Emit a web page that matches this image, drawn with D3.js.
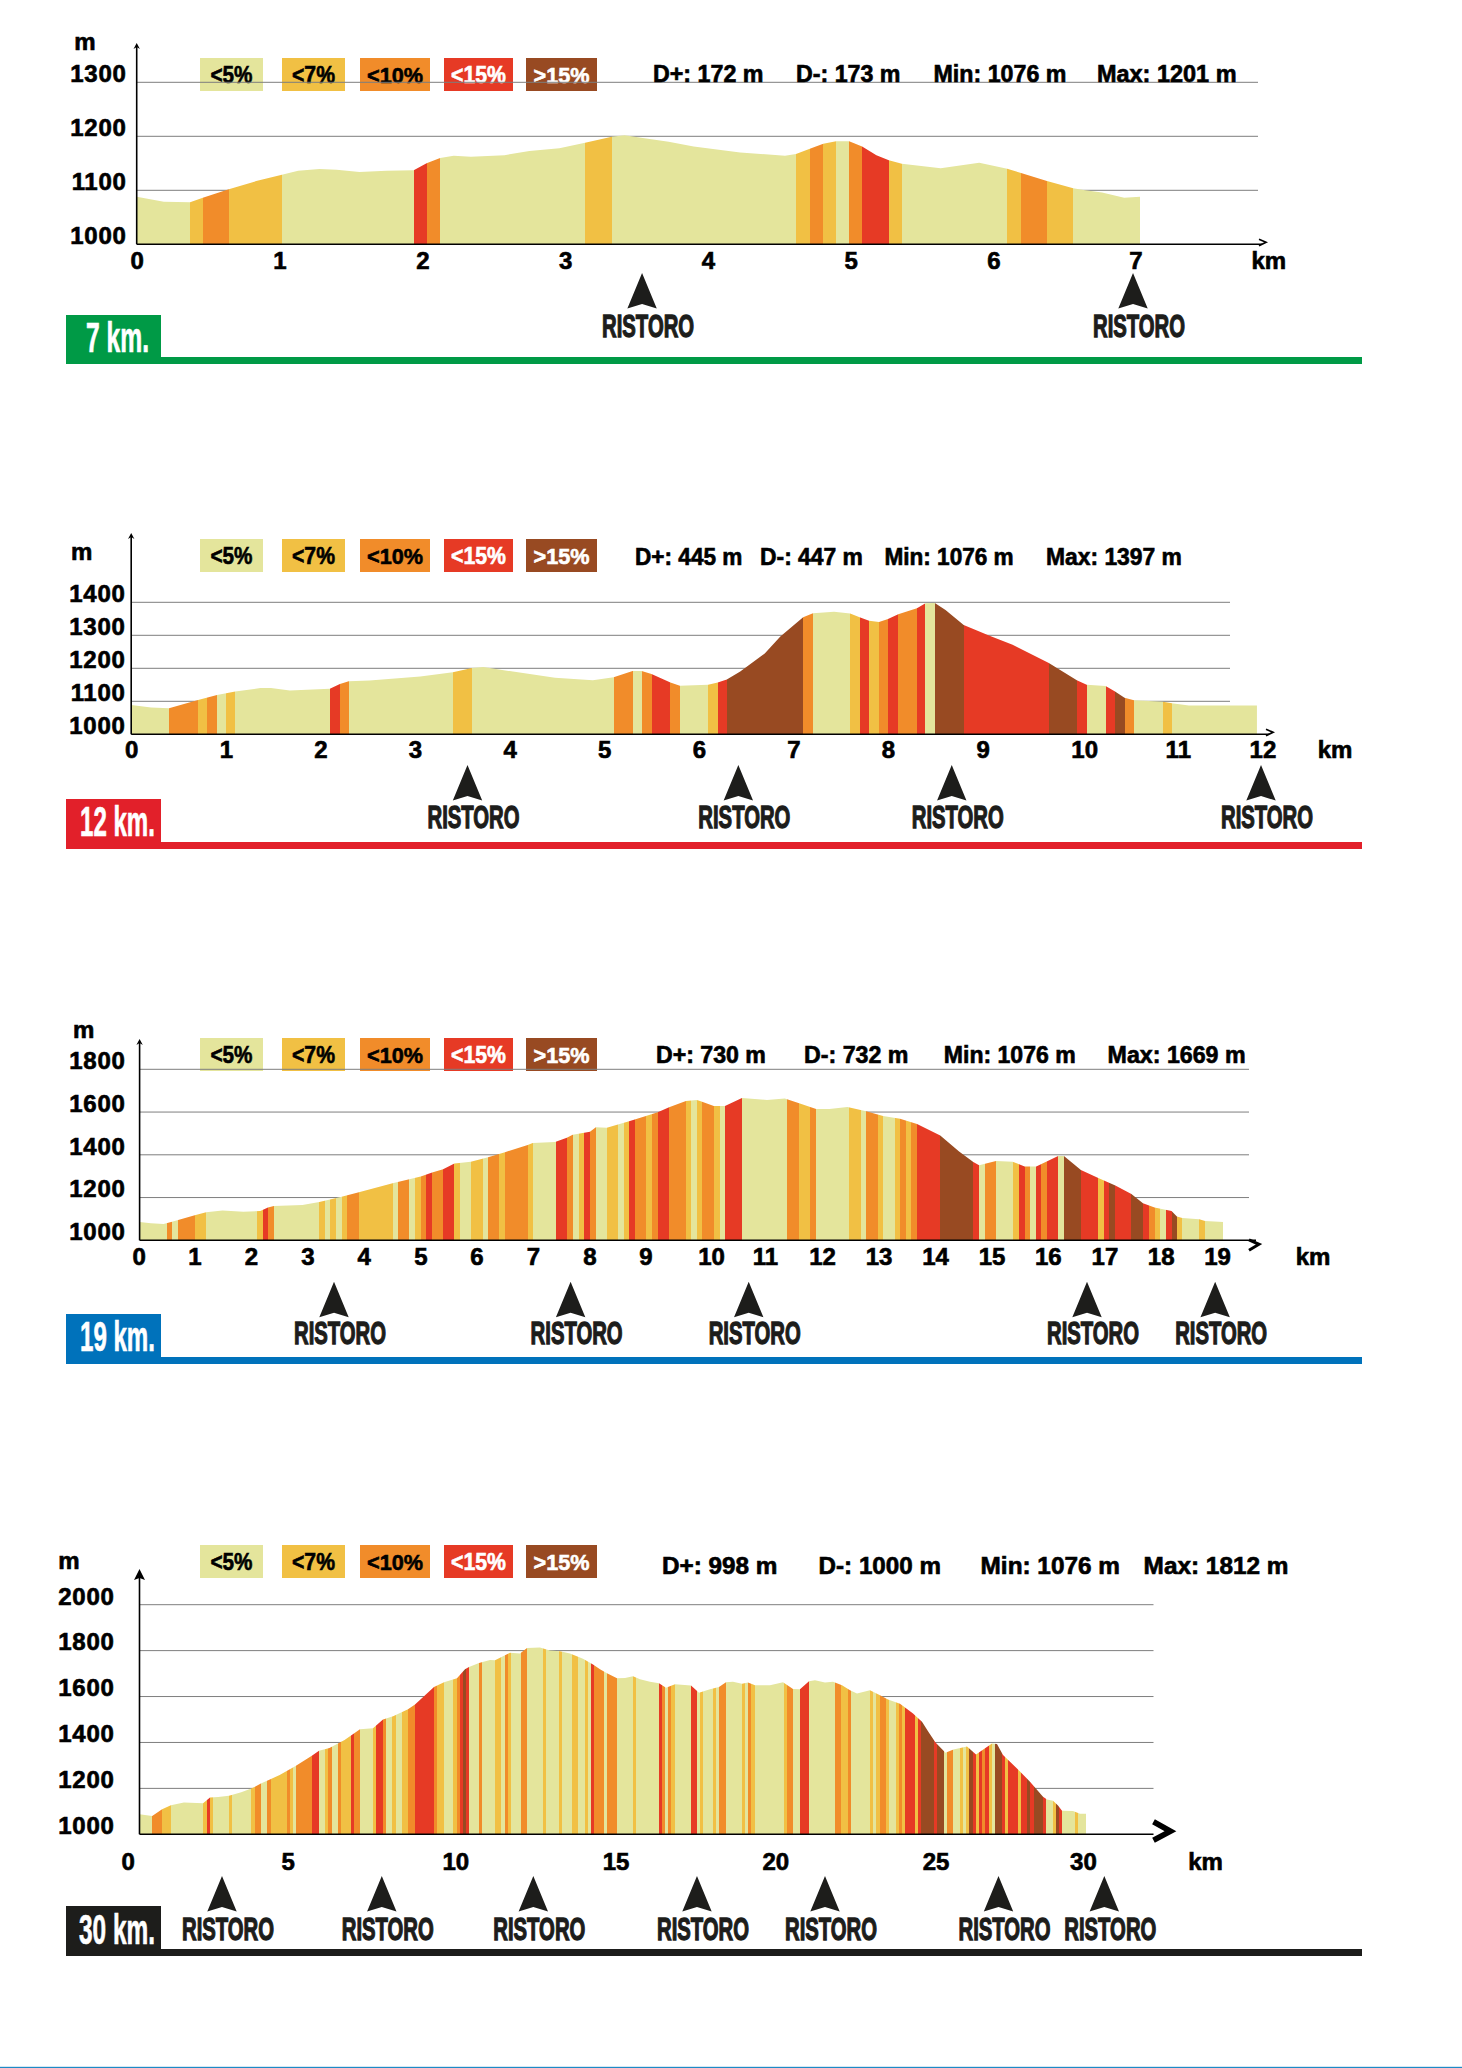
<!DOCTYPE html>
<html><head><meta charset="utf-8"><title>Altimetrie</title>
<script src="https://cdnjs.cloudflare.com/ajax/libs/d3/7.8.5/d3.min.js"></script>
<style>
html,body{margin:0;padding:0;background:#fff}
svg{display:block}
text{font-family:"Liberation Sans",Arial,sans-serif;font-weight:bold;fill:#000}
.heavy{stroke:#000;stroke-width:.65px}
.cond{font-family:"Liberation Sans Narrow","Liberation Sans",Arial,sans-serif}
</style></head><body><div id="chart"></div>
<script>
// ---- gradient classes
const classLabels=["<5%","<7%","<10%","<15%",">15%"];
const classColors=["#e4e59c","#f1c044","#f18c2a","#e63a25","#984a22"];
const classInk=["#000","#000","#000","#fff","#fff"];

// ---- 7 km
const km7=[0,.19,.374,.463,.645,.837,1.017,1.13,1.28,1.40,1.56,1.75,1.94,2.03,2.125,2.22,2.34,2.576,2.75,2.96,3.14,3.327,3.416,3.52,3.725,3.90,4.226,4.54,4.617,4.714,4.808,4.898,4.989,5.08,5.18,5.267,5.358,5.63,5.90,6.096,6.193,6.374,6.558,6.63,6.76,6.915,7.027];
const ele7=[1088,1079,1078,1086,1102,1117,1129,1136,1139.5,1138,1134,1136,1137,1150,1160,1164,1162,1165,1173,1178,1188,1199,1202,1198,1190,1181,1170,1164,1167,1177,1186,1191,1191,1181,1165,1155.6,1149,1141,1151,1140,1132,1117,1104,1100.6,1096,1086,1088];
const bandEnd7=[.374,.463,.645,1.017,1.942,2.034,2.125,3.139,3.327,4.617,4.714,4.808,4.898,4.989,5.08,5.267,5.358,6.096,6.193,6.374,6.558,7.027];
const bandClass7=[0,1,2,1,0,3,2,0,1,0,1,2,1,0,2,3,1,0,1,2,1,0];
const ristoro7=[3.539,6.977];
const xTicks7=[0,1,2,3,4,5,6,7];
const yTicks7=[1000,1100,1200,1300];
const stats7=["D+: 172 m","D-: 173 m","Min: 1076 m","Max: 1201 m"];

// ---- 12 km
const km12=[0,.21,.40,.707,.907,1.10,1.366,1.477,1.677,2.10,2.206,2.30,2.52,3.056,3.40,3.603,3.723,4.035,4.48,4.88,5.10,5.30,5.396,5.50,5.70,5.80,6.098,6.20,6.296,6.438,6.697,6.862,7.103,7.207,7.43,7.60,7.70,7.80,7.905,8.0,8.108,8.306,8.396,8.495,8.608,8.80,9.08,9.317,9.70,9.996,10.10,10.30,10.40,10.50,10.60,10.907,11.0,11.18,11.90];
const ele12=[1089,1081,1079,1104,1119,1130,1140,1140,1133,1138,1152.5,1160.6,1163,1175,1188,1201,1204,1190,1171,1164,1173,1192,1192,1183,1157,1147,1150,1157,1166,1190,1245,1296,1355,1367,1371,1366,1355,1344,1340,1349.5,1364,1382,1397,1398,1377,1331,1298,1271,1216,1164,1150.5,1146.5,1130,1111,1103,1099,1094,1087,1087];
const bandEnd12=[.40,.707,.80,.907,1.0,1.099,2.10,2.206,2.30,3.40,3.603,5.10,5.30,5.396,5.50,5.70,5.80,6.098,6.20,6.296,7.103,7.207,7.60,7.70,7.80,7.905,8.0,8.108,8.306,8.396,8.495,8.80,9.70,9.996,10.10,10.30,10.40,10.50,10.60,10.907,11.0,11.90];
const bandClass12=[0,2,1,2,0,1,0,3,2,0,1,0,2,0,2,3,2,0,1,3,4,2,0,1,3,1,2,3,2,3,0,4,3,4,3,0,3,4,2,0,1,0];
const ristoro12=[3.555,6.418,8.674,11.943];
const xTicks12=[0,1,2,3,4,5,6,7,8,9,10,11,12];
const yTicks12=[1000,1100,1200,1300,1400];
const stats12=["D+: 445 m","D-: 447 m","Min: 1076 m","Max: 1397 m"];

// ---- 19 km
const km19=[0,.2,.425,.575,.978,1.179,1.47,1.84,2.14,2.276,2.381,2.888,3.187,3.582,3.888,4.485,4.985,5.187,5.381,5.582,5.873,6.179,6.478,6.881,6.97,7.366,7.575,7.679,7.985,8.09,8.284,8.679,8.978,9.187,9.388,9.687,9.881,9.936,10.181,10.379,10.68,10.965,11.124,11.44,11.694,11.995,12.232,12.55,12.881,13.182,13.483,13.784,14.196,14.53,14.782,14.885,15.185,15.478,15.692,15.898,16.286,16.389,16.69,16.998,17.30,17.585,17.79,17.996,18.297,18.392,18.487,18.788,18.891,19.215];
const ele19=[1086,1080,1076,1087,1117,1131,1140,1133,1137,1153,1161,1165,1179,1204,1225,1267,1298,1317,1332,1359,1368,1388,1412,1446,1455,1460,1480,1494,1508,1529,1526,1557,1582,1599,1622,1652,1656.5,1652,1628,1628,1666,1660,1656.5,1663,1641,1614,1614,1624,1603.5,1582,1569,1544,1490,1415,1366.5,1351,1371,1368,1345,1345,1394.5,1394.5,1329,1292,1256,1217,1173,1154,1137,1111,1104.5,1098,1090,1086];
const bandEnd19=[.485,.575,.679,.978,1.179,2.082,2.187,2.276,2.381,3.187,3.284,3.381,3.478,3.582,3.679,3.888,4.485,4.582,4.776,4.881,4.985,5.075,5.187,5.381,5.582,5.679,5.873,6.082,6.179,6.381,6.478,6.881,6.97,7.381,7.575,7.679,7.784,7.881,7.985,8.09,8.284,8.478,8.582,8.679,8.784,8.978,9.082,9.187,9.388,9.687,9.776,9.881,9.976,10.181,10.292,10.379,10.68,11.48,11.694,11.884,11.995,12.58,12.786,12.881,13.095,13.182,13.396,13.483,13.586,13.681,13.784,14.196,14.782,14.885,14.987,15.185,15.486,15.597,15.692,15.795,15.898,15.985,16.088,16.286,16.389,16.69,16.998,17.094,17.189,17.30,17.585,17.79,17.893,17.996,18.099,18.194,18.297,18.392,18.487,18.788,18.891,19.215];
const bandClass19=[0,2,0,2,1,0,1,3,2,0,1,0,1,0,1,2,1,0,2,0,1,2,3,2,3,1,0,1,0,2,1,2,1,0,3,2,0,1,3,2,0,1,0,1,3,2,1,2,3,2,1,0,1,2,1,0,3,0,2,1,2,0,1,0,2,1,0,1,2,1,2,3,4,3,0,2,0,1,3,2,0,3,2,3,0,4,3,1,3,4,3,4,3,2,1,0,3,4,1,0,1,0];
const ristoro19=[3.447,7.642,10.8,16.798,19.07];
const xTicks19=[0,1,2,3,4,5,6,7,8,9,10,11,12,13,14,15,16,17,18,19];
const yTicks19=[1000,1200,1400,1600,1800];
const stats19=["D+: 730 m","D-: 732 m","Min: 1076 m","Max: 1669 m"];

// ---- 30 km
const km30=[0,.403,.717,.997,1.41,2.019,2.238,2.5,2.841,3.23,3.549,3.854,4.45,4.968,5.483,5.698,6.03,6.51,7.0,7.413,7.73,8.05,8.524,8.746,9.349,9.667,10.079,10.333,10.46,10.778,11.127,11.286,11.762,12.079,12.302,12.714,13.03,13.349,13.667,14.079,14.397,14.619,14.841,15.159,15.413,15.667,15.889,16.206,16.492,16.714,17.0,17.508,17.762,18.111,18.397,18.619,18.84,19.127,19.317,19.54,20.016,20.429,20.746,20.968,21.254,21.444,21.762,22.016,22.302,22.556,22.778,23.19,23.508,23.762,24.143,24.556,24.841,25.048,25.27,25.587,25.841,26.27,26.556,27.063,27.222,27.413,27.857,28.27,28.683,28.81,29.0,29.159,29.286,29.635,29.857,30.048];
const ele30=[1087,1080,1109,1126,1139,1135,1160,1163,1168,1183,1199,1221,1258,1299,1343,1364,1376,1411,1458,1462,1500,1514,1545,1565,1642,1662,1680,1719,1729,1746,1759,1758,1791,1788,1811,1814,1800,1797,1787,1765,1740,1719,1701,1680,1681,1688,1675,1664,1658,1638,1654,1648,1617,1632,1642,1662,1664,1656,1661,1649,1649,1662,1633,1632,1667,1671,1661,1664,1649,1627,1613,1627,1606,1587,1569,1526,1490,1446,1400,1355,1369,1382,1348,1396,1393,1345,1287,1229,1164,1152,1146,1125,1103,1101,1090,1090];
const bandEnd30=[.403,.717,.997,2.019,2.14,2.238,2.333,2.841,2.943,3.549,3.67,3.854,4.048,4.181,4.667,4.778,4.873,4.968,5.483,5.698,5.883,5.978,6.111,6.295,6.394,6.714,6.81,7.0,7.413,7.508,7.73,7.825,8.016,8.143,8.333,8.524,8.746,9.349,9.444,9.667,9.952,10.079,10.175,10.27,10.365,10.46,10.778,10.873,11.286,11.476,11.603,11.698,11.794,12.111,12.302,12.81,12.905,13.317,13.413,13.73,13.921,14.143,14.238,14.333,14.429,14.619,14.746,14.841,15.159,15.667,15.762,16.492,16.587,16.683,16.778,16.873,17.0,17.508,17.698,17.794,17.889,18.206,18.302,18.397,18.619,19.127,19.222,19.317,19.413,19.54,20.46,20.556,20.746,20.968,21.254,22.079,22.27,22.492,22.587,23.19,23.286,23.381,23.508,23.698,23.794,24.016,24.111,24.206,24.302,24.619,24.714,24.81,25.222,25.317,25.54,25.635,25.825,26.048,26.143,26.238,26.333,26.46,26.556,26.651,26.746,26.841,26.968,27.063,27.159,27.381,27.476,27.571,27.889,27.984,28.175,28.27,28.397,28.683,28.778,29.0,29.095,29.19,29.286,29.698,29.794,30.048];
const bandClass30=[0,2,1,0,1,3,1,0,1,0,1,2,0,2,1,2,1,0,2,3,0,1,2,0,2,1,3,2,0,1,3,2,0,1,0,1,2,3,2,1,0,1,2,3,4,3,0,2,0,1,0,2,1,0,2,0,1,0,1,0,1,0,1,0,3,2,2,0,2,0,1,0,3,2,0,2,1,0,3,0,1,0,1,0,2,0,1,0,2,1,0,1,2,0,3,0,2,1,2,0,1,0,1,2,1,0,1,2,1,3,1,3,4,3,4,0,2,0,1,0,1,4,3,1,3,2,3,1,0,4,3,1,3,1,3,4,3,4,3,0,1,4,3,0,1,0];
const ristoro30=[2.619,7.692,12.502,17.698,21.762,27.27,30.629];
const xTicks30=[0,5,10,15,20,25,30];
const yTicks30=[1000,1200,1400,1600,1800,2000];
const stats30=["D+: 998 m","D-: 1000 m","Min: 1076 m","Max: 1812 m"];

const panelTitles=["7 km.","12 km.","19 km.","30 km."];

// ---- page layout (pixels), separate from the values above
const legendBoxes=[[200,263,42],[282,345,43],[360,430,56],[444,513,55],[526,597,56]];
const panels=[
 {km:km7,ele:ele7,end:bandEnd7,cls:bandClass7,rist:ristoro7,xt:xTicks7,yt:yTicks7,st:stats7,title:panelTitles[0],color:"#009a46",
  x0:136.7,pxKm:142.8,yBase:244.3,yTop:82.3,yMax:1300,gridEnd:1258,axisTop:47,axisEnd:1262,arrow:"small",
  mx:85,my:42.7,labelR:126.5,kmx:1268.8,tickY:261,legendY:58,statY:82,
  statX:[[653,110.5],[796,104.5],[933.5,133],[1097,139.6]],tickDx:[0,0,0,0,0,0,0,-1],
  arrowY:273,textY:336.7,blockY:315,blockH:49,titleX:86,titleW:63,titleY:351.5},
 {km:km12,ele:ele12,end:bandEnd12,cls:bandClass12,rist:ristoro12,xt:xTicks12,yt:yTicks12,st:stats12,title:panelTitles[1],color:"#e2202a",
  x0:131.2,pxKm:94.6,yBase:734.3,yTop:602.3,yMax:1400,gridEnd:1230,axisTop:537,axisEnd:1269,arrow:"small",
  mx:81.6,my:553,labelR:125.5,kmx:1335,tickY:750,legendY:539,statY:565,
  statX:[[635,107.5],[760,103],[884.4,129.4],[1046,136]],tickDx:[0,0,0,0,0,0,0,0,0,0,7,6,-4],
  arrowY:765,textY:828,blockY:799,blockH:50,titleX:80,titleW:75,titleY:836},
 {km:km19,ele:ele19,end:bandEnd19,cls:bandClass19,rist:ristoro19,xt:xTicks19,yt:yTicks19,st:stats19,title:panelTitles[2],color:"#0072bb",
  x0:139.6,pxKm:56.4,yBase:1240.3,yTop:1069.3,yMax:1800,gridEnd:1249,axisTop:1043,axisEnd:1256,arrow:"mid",
  mx:83.7,my:1031,labelR:125.5,kmx:1313,tickY:1257,legendY:1038,statY:1062.7,
  statX:[[656,110],[804,104.5],[943.8,132],[1107.6,138]],tickDx:[-1,-1.5,-1.5,-1.5,-1.5,-1.2,-1.5,-1.5,-1.5,-1.7,7.4,5,5.6,5.8,5.8,5.9,5.8,6,5.9,5.8],
  arrowY:1281.7,textY:1344.3,blockY:1314,blockH:50,titleX:80,titleW:75,titleY:1351},
 {km:km30,ele:ele30,end:bandEnd30,cls:bandClass30,rist:ristoro30,xt:xTicks30,yt:yTicks30,st:stats30,title:panelTitles[3],color:"#1d1d1b",
  x0:139.5,pxKm:31.5,yBase:1834.3,yTop:1604.7,yMax:2000,gridEnd:1153.5,axisTop:1578,axisEnd:1153.5,arrow:"big",
  mx:69,my:1562.3,labelR:114.5,kmx:1205.6,tickY:1862,legendY:1545,statY:1574,
  statX:[[662,115.5],[818.6,122.4],[980.6,139.4],[1143.6,145]],tickDx:[-11.8,-9.3,.8,3.6,5.8,8.5,-1.6],
  arrowY:1876,textY:1940,blockY:1906,blockH:50,titleX:79,titleW:76,titleY:1944}
];

const W=1462,H=2068;
const svg=d3.select("#chart").append("svg").attr("width",W).attr("height",H).attr("viewBox",[0,0,W,H]);
const INK="#1d1d1b";

// squeezes a line of text into a measured width, starting at (px,py)
function fit(sel,px,py,w){
  const natural=sel.node().getComputedTextLength()||w;
  return sel.attr("transform",`translate(${px},${py}) scale(${w/natural},1)`);
}

panels.forEach((p,pi)=>{
  const g=svg.append("g");
  const maxKm=(W-p.x0)/p.pxKm;
  const x=d3.scaleLinear().domain([0,maxKm]).range([p.x0,W]);
  const y=d3.scaleLinear().domain([1000,p.yMax]).range([p.yBase,p.yTop]);
  const points=d3.range(p.km.length).map(i=>[p.km[i],p.ele[i]]);

  // legend (sits under the gridlines)
  const leg=g.append("g");
  classLabels.forEach((t,i)=>{
    const [a,b,tw]=legendBoxes[i];
    leg.append("rect").attr("x",a).attr("y",p.legendY).attr("width",b-a).attr("height",33).attr("fill",classColors[i]);
    fit(leg.append("text").attr("font-size",23).style("fill",classInk[i]).style("stroke",classInk[i]).style("stroke-width",".6px").text(t),
      (a+b)/2-tw/2,p.legendY+24.7,tw);
  });

  // gridlines
  g.append("g").selectAll("line").data(p.yt.filter(v=>v>1000)).join("line")
    .attr("x1",p.x0).attr("x2",p.gridEnd).attr("y1",d=>y(d)).attr("y2",d=>y(d))
    .attr("stroke","#7e7e7e").attr("stroke-width",1);

  // profile: coloured bands clipped to the elevation area
  const clipId="profile"+pi;
  const area=d3.area().x(d=>x(d[0])).y0(y(1000)).y1(d=>y(d[1]));
  g.append("clipPath").attr("id",clipId).append("path").attr("d",area(points));
  const bands=p.end.map((e,i)=>({a:i?p.end[i-1]:0,b:e,c:p.cls[i]}));
  g.append("g").attr("clip-path",`url(#${clipId})`).selectAll("rect").data(bands).join("rect")
    .attr("x",d=>x(d.a)).attr("width",d=>x(d.b)-x(d.a)).attr("y",y.range()[1]).attr("height",y.range()[0]-y.range()[1])
    .attr("fill",d=>classColors[d.c]).attr("shape-rendering","crispEdges");

  // y axis
  const yAxis=d3.axisLeft(y).tickValues(p.yt).tickSize(0).tickPadding(0).tickFormat(d3.format("d"));
  const ya=g.append("g").attr("transform",`translate(${p.labelR},0)`).call(yAxis);
  ya.select(".domain").remove();
  ya.selectAll("text").attr("class","heavy").attr("font-size",24).attr("font-family",null).attr("x",0).attr("dy",null)
    .attr("y",8).attr("transform","translate(0,-8.7)").style("letter-spacing",".7px");
  g.append("line").attr("x1",p.x0).attr("x2",p.x0).attr("y1",p.axisTop).attr("y2",p.yBase).attr("stroke","#000").attr("stroke-width",1.6);
  const big=p.arrow==="big";
  const hw=big?5.5:3.2, hh=big?10:6;
  g.append("path").attr("d",`M${p.x0-hw},${p.axisTop+2}L${p.x0},${p.axisTop+2-hh-(big?1:0)}L${p.x0+hw},${p.axisTop+2}L${p.x0},${p.axisTop}Z`).attr("fill","#000");

  // x axis
  const xAxis=d3.axisBottom(x).tickValues(p.xt).tickSize(0).tickFormat(d3.format("d"));
  const xa=g.append("g").attr("transform",`translate(0,${p.yBase})`).call(xAxis);
  xa.select(".domain").remove();
  xa.selectAll("text").attr("class","heavy").attr("font-size",24).attr("font-family",null)
    .attr("x",(d,i)=>p.tickDx[i]).attr("dy",null).attr("y",p.tickY-p.yBase+8.3);
  g.append("line").attr("x1",p.x0).attr("x2",p.axisEnd).attr("y1",p.yBase).attr("y2",p.yBase).attr("stroke","#000").attr("stroke-width",1.6);
  const e=p.axisEnd;
  if(big){
    g.append("path").attr("d",`M${e},${p.yBase-12.5}L${e+17},${p.yBase-3}L${e},${p.yBase+6}`).attr("fill","none").attr("stroke","#000").attr("stroke-width",5.6);
  }else if(p.arrow==="mid"){
    g.append("path").attr("d",`M${e-7},${p.yBase-.5}L${e+3},${p.yBase+4}L${e-7},${p.yBase+10}`).attr("fill","none").attr("stroke","#000").attr("stroke-width",3);
  }else{
    g.append("path").attr("d",`M${e-3},${p.yBase-5}L${e+4},${p.yBase-2}L${e-3},${p.yBase+1.5}`).attr("fill","none").attr("stroke","#000").attr("stroke-width",1.7);
  }

  // unit labels
  g.append("text").attr("class","heavy").attr("x",p.mx).attr("y",p.my+7).attr("text-anchor","middle").attr("font-size",24).text("m");
  g.append("text").attr("class","heavy").attr("x",p.kmx).attr("y",p.tickY+8.3).attr("text-anchor","middle").attr("font-size",24).text("km");

  // stats line
  p.st.forEach((t,i)=>{
    fit(g.append("text").attr("class","heavy").attr("font-size",24).text(t),p.statX[i][0],p.statY,p.statX[i][1]);
  });

  // refreshment points
  const rist=g.append("g").selectAll("g").data(p.rist).join("g").attr("transform",d=>`translate(${x(d)},0)`);
  rist.append("path").attr("d",`M0,${p.arrowY}L14.7,${p.arrowY+35.6}L0,${p.arrowY+31}L-14.7,${p.arrowY+35.6}Z`).attr("fill",INK);
  rist.append("text").attr("class","cond").attr("font-size",31)
    .style("fill",INK).style("stroke",INK).style("stroke-width","1.3px").text("RISTORO")
    .each(function(){fit(d3.select(this),6-46,p.textY,92);});

  // title block and rule
  g.append("rect").attr("x",66).attr("y",p.blockY).attr("width",95).attr("height",p.blockH).attr("fill",p.color);
  g.append("rect").attr("x",66).attr("y",p.blockY+p.blockH-7).attr("width",1296).attr("height",7).attr("fill",p.color);
  fit(g.append("text").attr("class","cond").attr("font-size",42).style("fill","#fff").style("stroke","#fff").style("stroke-width",".7px").text(p.title),p.titleX,p.titleY,p.titleW);
});

// thin rule at the very bottom of the sheet
svg.append("rect").attr("x",0).attr("y",2066.8).attr("width",W).attr("height",1.2).attr("fill","#1e8ac6");
</script></body></html>
